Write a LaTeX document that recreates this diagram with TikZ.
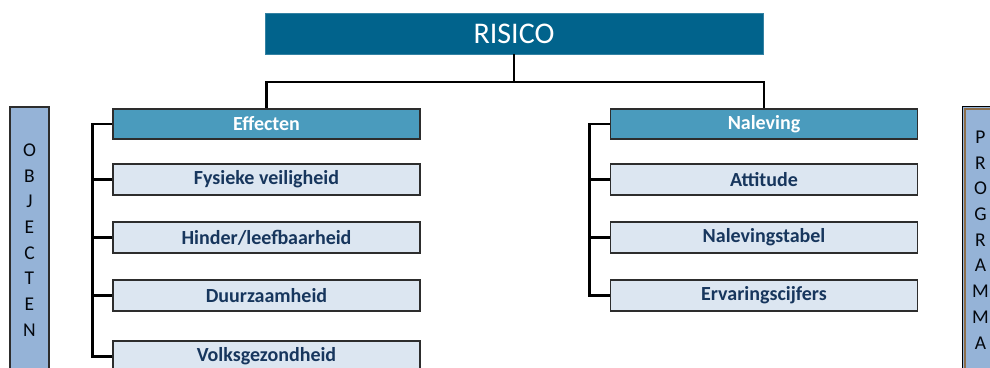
\documentclass[tikz,border=0pt]{standalone}
\usepackage{fontspec}
\setmainfont{Carlito}
\definecolor{topblue}{RGB}{1,99,140}
\definecolor{midblue}{RGB}{74,155,189}
\definecolor{paleblue}{RGB}{220,230,241}
\definecolor{sideblue}{RGB}{149,179,215}
\definecolor{navytext}{RGB}{23,54,93}
\definecolor{edgegray}{RGB}{45,45,45}
\definecolor{frametan}{RGB}{140,110,75}
\begin{document}
\begin{tikzpicture}[x=1pt,y=-1pt,
  conn/.style={draw=black,line width=2.6pt,line join=miter},
  rootbox/.style={fill=topblue,draw=topblue!80!white,line width=0.8pt,
    minimum width=498pt,minimum height=41pt,inner sep=0pt,
    text=white,font=\fontsize{30}{32}\selectfont},
  headbox/.style={fill=midblue,draw=edgegray,line width=1.6pt,
    minimum width=307pt,minimum height=30pt,inner sep=0pt,
    text=white,font=\fontsize{20}{22}\selectfont\bfseries},
  itembox/.style={fill=paleblue,draw=edgegray,line width=1.6pt,
    minimum width=307pt,minimum height=31pt,inner sep=0pt,
    text=navytext,font=\fontsize{20}{22}\selectfont\bfseries},
  sideletters/.style={align=center,inner sep=0pt,text=black!85!navytext,
    font=\fontsize{19.5}{25.7}\selectfont}]
\useasboundingbox (0,0) rectangle (990,367);
\clip (0,0) rectangle (990,367);

% side bars
\draw[fill=sideblue,draw=edgegray,line width=1.4pt] (10,107) rectangle (49,420);
\node[sideletters] (objecten) at (29.5,240) {O\\B\\J\\E\\C\\T\\E\\N};
\draw[fill=sideblue,draw=black,line width=1pt] (962,106) rectangle (1005,420);
\draw[draw=frametan,line width=1.4pt] (965,109) rectangle (1002,420);
\node[sideletters] (programma) at (980.5,240) {P\\R\\O\\G\\R\\A\\M\\M\\A};

% root
\node[rootbox] (ris) at (514,33.5) {RISICO};

% left column
\node[headbox] (eff) at (266.5,124) {Effecten};
\node[itembox] (fys) at (266.5,179.5) {Fysieke veiligheid};
\node[itembox] (hin) at (266.5,237.5) {Hinder/leefbaarheid};
\node[itembox] (duu) at (266.5,295.5) {Duurzaamheid};
\node[itembox] (vol) at (266.5,356.5) {Volksgezondheid};

% right column
\node[headbox] (nal) at (764,124) {Naleving};
\node[itembox] (att) at (764,179.5) {Attitude};
\node[itembox] (tab) at (764,237.5) {Nalevingstabel};
\node[itembox] (erv) at (764,295.5) {Ervaringscijfers};

% root to heads
\coordinate (bar) at (514,82);
\draw[conn] (ris.south) -- (bar);
\draw[conn] (eff.north) |- (bar) -| (nal.north);

% left bracket
\coordinate (lspine) at ([xshift=-20pt]eff.west);
\draw[conn] (eff.west) -- (lspine) |- (vol.west);
\draw[conn] (lspine |- fys.west) -- (fys.west);
\draw[conn] (lspine |- hin.west) -- (hin.west);
\draw[conn] (lspine |- duu.west) -- (duu.west);

% right bracket
\coordinate (rspine) at ([xshift=-20pt]nal.west);
\draw[conn] (nal.west) -- (rspine) |- (erv.west);
\draw[conn] (rspine |- att.west) -- (att.west);
\draw[conn] (rspine |- tab.west) -- (tab.west);
\end{tikzpicture}
\end{document}
